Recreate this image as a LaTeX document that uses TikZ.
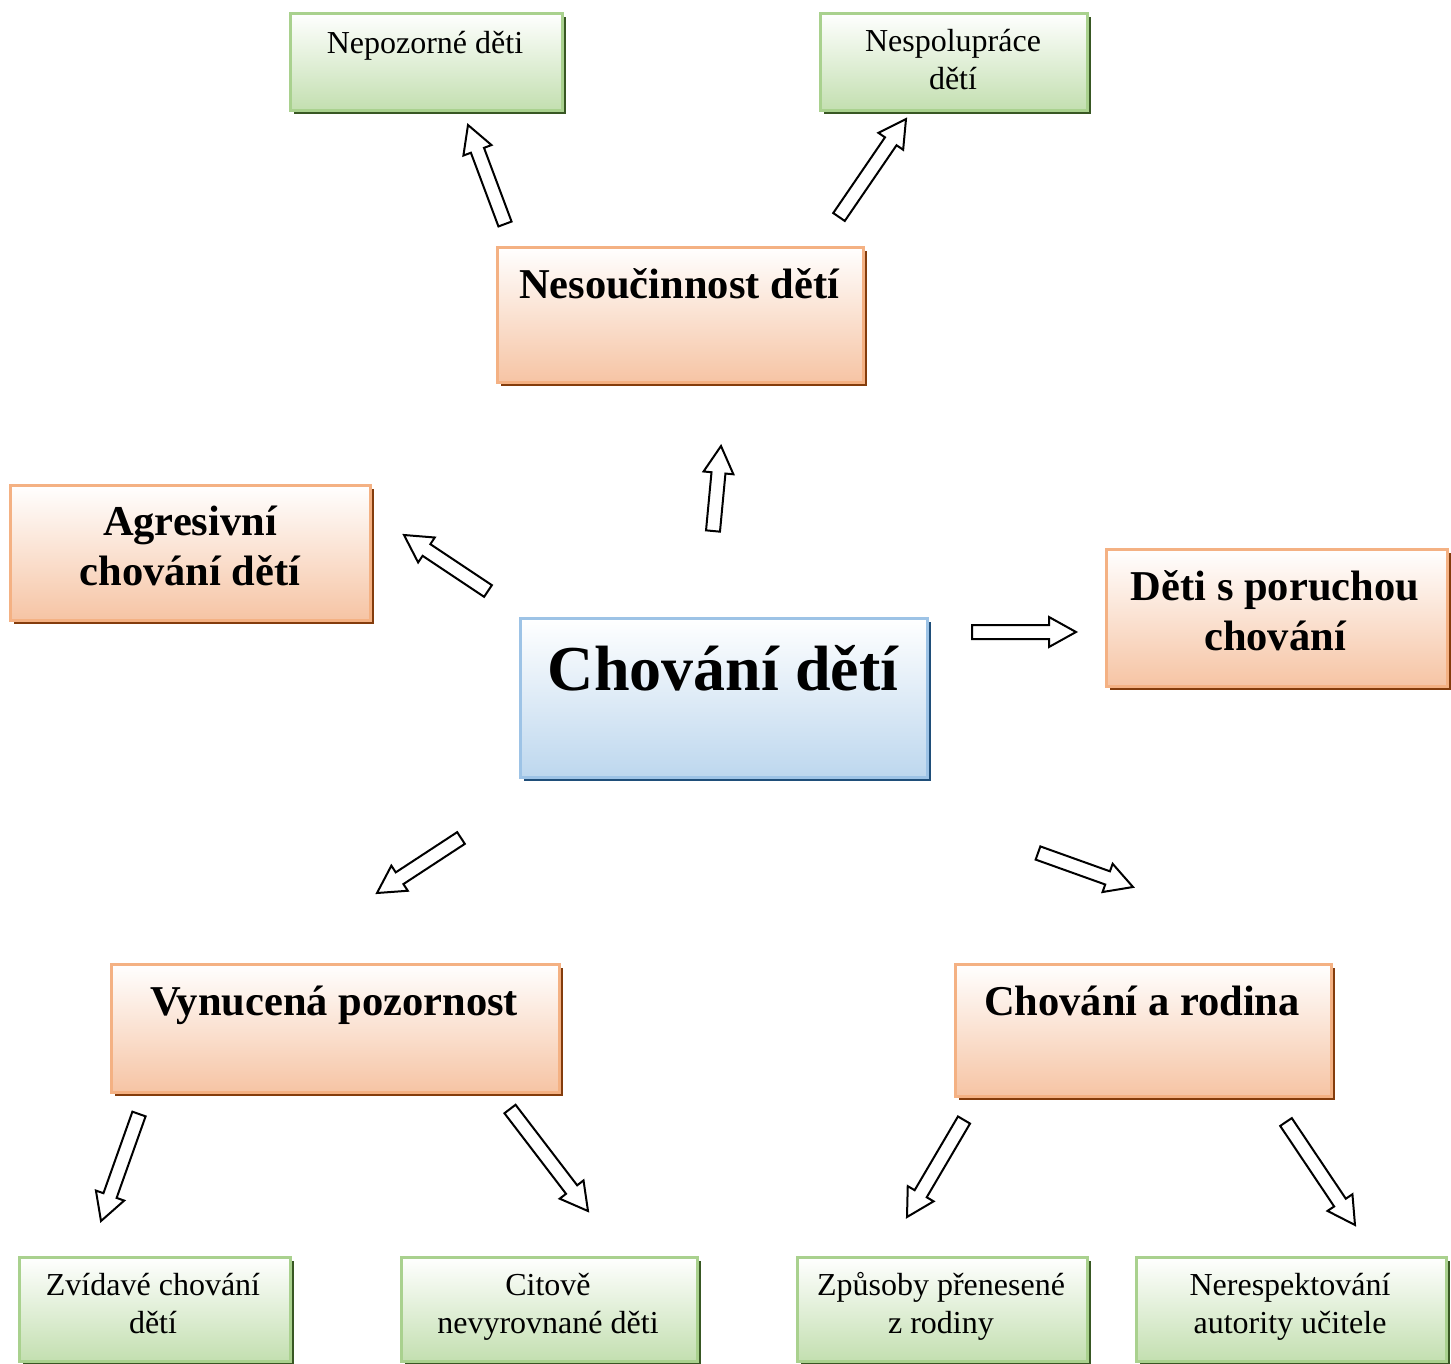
\documentclass[tikz,border=0pt]{standalone}
\usepackage{fontspec}
\setmainfont{Liberation Serif}
\usetikzlibrary{calc,shadows}
\definecolor{obot}{HTML}{F6C4A4}
\definecolor{obrd}{HTML}{F4B183}
\definecolor{oshd}{HTML}{843C0C}
\definecolor{gbot}{HTML}{C3DFB0}
\definecolor{gbrd}{HTML}{A9D18E}
\definecolor{gshd}{HTML}{385723}
\definecolor{bbot}{HTML}{BDD7EE}
\definecolor{bbrd}{HTML}{9DC3E6}
\definecolor{bshd}{HTML}{1F4E79}
\tikzset{
  boxbase/.style={rectangle, anchor=north west, inner sep=0pt, line width=2.5pt, shading=axis, top color=white},
  obox/.style={boxbase, bottom color=obot, draw=obrd, drop shadow={shadow xshift=4pt, shadow yshift=-4pt, fill=oshd, opacity=1}},
  gbox/.style={boxbase, bottom color=gbot, draw=gbrd, drop shadow={shadow xshift=4pt, shadow yshift=-4pt, fill=gshd, opacity=1}},
  bbox/.style={boxbase, bottom color=bbot, draw=bbrd, drop shadow={shadow xshift=4pt, shadow yshift=-4pt, fill=bshd, opacity=1}},
  htext/.style={anchor=base, inner sep=0pt, align=center, font=\fontsize{42.5}{50}\selectfont\bfseries},
  stext/.style={anchor=base, inner sep=0pt, align=center, font=\fontsize{32}{38}\selectfont},
  ctext/.style={anchor=base, inner sep=0pt, align=center, font=\fontsize{64}{72}\selectfont\bfseries},
  barrow/.style={draw=black, fill=white, line width=2pt, line join=miter}
}
\newcommand\blockarr[2]{%
  \path ($(#2)!27pt!(#1)$) coordinate (hb);
  \draw[barrow] ($(#1)!7pt!90:(#2)$) -- ($(hb)!7pt!90:(#2)$) -- ($(hb)!15pt!90:(#2)$) -- (#2)
     -- ($(hb)!15pt!-90:(#2)$) -- ($(hb)!7pt!-90:(#2)$) -- ($(#1)!7pt!-90:(#2)$) -- cycle;}
\begin{document}
\begin{tikzpicture}[x=1pt,y=-1pt]
\useasboundingbox[fill=white] (0,0) rectangle (1451,1363);
% boxes
\node[gbox, minimum width=272pt, minimum height=97pt] (nep) at (289,12) {};
\node[gbox, minimum width=267pt, minimum height=97pt] (nsp) at (819,12) {};
\node[obox, minimum width=366pt, minimum height=135pt] (nes) at (496,246) {};
\node[obox, minimum width=360pt, minimum height=135pt] (agr) at (9,484) {};
\node[obox, minimum width=341pt, minimum height=137pt] (por) at (1105,548) {};
\node[bbox, minimum width=407pt, minimum height=159pt] (cho) at (519,617) {};
\node[obox, minimum width=448pt, minimum height=128pt] (vyn) at (110,963) {};
\node[obox, minimum width=376pt, minimum height=132pt] (rod) at (954,963) {};
\node[gbox, minimum width=271pt, minimum height=104pt] (zvi) at (18,1256) {};
\node[gbox, minimum width=296pt, minimum height=104pt] (cit) at (400,1256) {};
\node[gbox, minimum width=290pt, minimum height=104pt] (zpu) at (796,1256) {};
\node[gbox, minimum width=310pt, minimum height=104pt] (ner) at (1135,1256) {};
% texts (base anchor = baseline of the last line)
\node[stext] (tnep) at (425,53) {Nepozorné děti};
\node[stext] (tnsp) at (953,89) {Nespolupráce\\dětí};
\node[htext] (tnes) at (679,298) {Nesoučinnost dětí};
\node[htext] (tagr) at (190,585) {Agresivní\\chování dětí};
\node[htext] (tpor) at (1275,650) {Děti s poruchou\\chování};
\node[ctext] (tcho) at (723,690) {Chování dětí};
\node[htext] (tvyn) at (334,1015) {Vynucená pozornost};
\node[htext] (trod) at (1142,1015) {Chování a rodina};
\node[stext] (tzvi) at (153,1333) {Zvídavé chování\\dětí};
\node[stext] (tcit) at (548,1333) {Citově\\nevyrovnané děti};
\node[stext] (tzpu) at (941,1333) {Způsoby přenesené\\z rodiny};
\node[stext] (tner) at (1290,1333) {Nerespektování\\autority učitele};
% arrow end points
\coordinate (a1t) at (505,224); \coordinate (a1h) at (468,125);
\coordinate (a2t) at (839,217); \coordinate (a2h) at (906,119);
\coordinate (a3t) at (713,531); \coordinate (a3h) at (721,446);
\coordinate (a4t) at (488,591); \coordinate (a4h) at (404,535);
\coordinate (a5t) at (972,632); \coordinate (a5h) at (1076,632);
\coordinate (a6t) at (461,838); \coordinate (a6h) at (377,893);
\coordinate (a7t) at (1038,853); \coordinate (a7h) at (1133,887);
\coordinate (a8t) at (139,1114); \coordinate (a8h) at (101,1221);
\coordinate (a9t) at (510,1109); \coordinate (a9h) at (588,1211);
\coordinate (a10t) at (964,1120); \coordinate (a10h) at (907,1217);
\coordinate (a11t) at (1286,1122); \coordinate (a11h) at (1355,1225);
\blockarr{a1t}{a1h}
\blockarr{a2t}{a2h}
\blockarr{a3t}{a3h}
\blockarr{a4t}{a4h}
\blockarr{a5t}{a5h}
\blockarr{a6t}{a6h}
\blockarr{a7t}{a7h}
\blockarr{a8t}{a8h}
\blockarr{a9t}{a9h}
\blockarr{a10t}{a10h}
\blockarr{a11t}{a11h}
\end{tikzpicture}
\end{document}
